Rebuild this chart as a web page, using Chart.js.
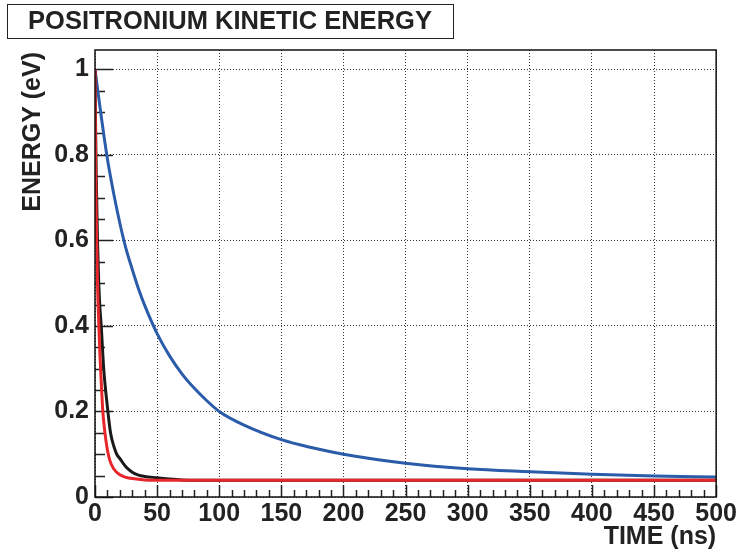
<!DOCTYPE html>
<html>
<head>
<meta charset="utf-8">
<script src="https://cdn.jsdelivr.net/npm/chart.js@4.4.1/dist/chart.umd.min.js"></script>
<style>
    html, body { margin: 0; padding: 0; background: #fff; }
    #energyChart { display: block; }
</style>
</head>
<body>
<canvas id="energyChart" width="739" height="556"></canvas>
<script>
// Values: time in ns, energy in eV
const timeBlue = [0, 5, 10, 15, 20, 25, 30, 35, 40, 50, 60, 70, 80, 90, 100, 120, 150, 175, 200, 250, 300, 350, 400, 450, 500];
const energyBlue = [1.0, 0.89, 0.79, 0.71, 0.64, 0.58, 0.532, 0.487, 0.448, 0.382, 0.33, 0.288, 0.254, 0.225, 0.2, 0.168, 0.134, 0.115, 0.1, 0.079, 0.066, 0.059, 0.053, 0.049, 0.047];

const timeBlack = [0, 0.5, 1, 2, 3, 4, 5, 7, 10, 12.5, 15, 17.5, 20, 25, 30, 35, 40, 50, 60, 70, 100, 200, 300, 400, 500];
const energyBlack = [1.0, 0.86, 0.75, 0.6, 0.5, 0.44, 0.4, 0.3, 0.21, 0.15, 0.12, 0.1, 0.09, 0.07, 0.058, 0.051, 0.048, 0.045, 0.042, 0.04, 0.039, 0.039, 0.039, 0.039, 0.039];

const timeRed = [0, 0.5, 1, 2, 3, 4, 5, 6.3, 8, 10, 12, 15, 20, 25, 30, 40, 60, 100, 200, 300, 400, 500];
const energyRed = [1.0, 0.78, 0.66, 0.5, 0.41, 0.33, 0.27, 0.2, 0.15, 0.11, 0.085, 0.066, 0.052, 0.046, 0.043, 0.04, 0.039, 0.039, 0.039, 0.039, 0.039, 0.039];

const xTicks = [0, 50, 100, 150, 200, 250, 300, 350, 400, 450, 500];
const yTicks = [0, 0.2, 0.4, 0.6, 0.8, 1];

const chartTitle = 'POSITRONIUM KINETIC ENERGY';
const xTitle = 'TIME (ns)';
const yTitle = 'ENERGY (eV)';

const FONT = "'Liberation Sans', Arial, Helvetica, sans-serif";

function toPoints(xs, ys) {
    return xs.map(function(t, i) { return { x: t, y: ys[i] }; });
}

// Frame, inward ticks, title box and axis titles (ROOT style)
const rootStyle = {
    id: 'rootStyle',
    beforeDatasetsDraw(chart) {
        const { ctx, chartArea: a, scales: { x, y } } = chart;
        ctx.save();
        ctx.strokeStyle = '#222';
        ctx.lineWidth = 1.5;
        ctx.beginPath();
        for (let t = 0; t <= 500; t += 10) {
            const px = Math.round(x.getPixelForValue(t)) + 0.5;
            const len = t % 50 === 0 ? 12 : 7;
            ctx.moveTo(px, a.bottom);
            ctx.lineTo(px, a.bottom - len);
        }
        for (let i = 0; i <= 20; i++) {
            const v = i * 0.05;
            const py = Math.round(y.getPixelForValue(v)) + 0.5;
            const len = i % 4 === 0 ? 18 : 10;
            ctx.moveTo(a.left, py);
            ctx.lineTo(a.left + len, py);
        }
        ctx.stroke();
        ctx.restore();
    },
    afterDraw(chart) {
        const { ctx, chartArea: a } = chart;
        ctx.save();
        ctx.strokeStyle = '#111';
        ctx.lineWidth = 1.5;
        ctx.strokeRect(a.left, a.top, a.right - a.left, a.bottom - a.top);

        // title box
        ctx.lineWidth = 1;
        ctx.strokeStyle = '#222';
        ctx.strokeRect(7.5, 4.5, 446, 34);
        ctx.fillStyle = '#222';
        ctx.font = 'bold 25.5px ' + FONT;
        ctx.textBaseline = 'middle';
        ctx.textAlign = 'center';
        ctx.fillText(chartTitle, 230, 22);

        // axis titles
        ctx.font = 'bold 25px ' + FONT;
        ctx.textAlign = 'right';
        ctx.fillText(xTitle, a.right, 537);
        ctx.translate(33, a.top + 2);
        ctx.rotate(-Math.PI / 2);
        ctx.textAlign = 'right';
        ctx.fillText(yTitle, 0, 0);
        ctx.restore();
    }
};

new Chart(document.getElementById('energyChart'), {
    type: 'line',
    data: {
        datasets: [{
            label: 'red',
            data: toPoints(timeRed, energyRed),
            borderColor: '#e8262b',
            borderWidth: 3,
            pointRadius: 0,
            cubicInterpolationMode: 'monotone',
            order: 0
        }, {
            label: 'black',
            data: toPoints(timeBlack, energyBlack),
            borderColor: '#1a1a1a',
            borderWidth: 3,
            pointRadius: 0,
            cubicInterpolationMode: 'monotone',
            order: 1
        }, {
            label: 'blue',
            data: toPoints(timeBlue, energyBlue),
            borderColor: '#2a5caa',
            borderWidth: 3,
            pointRadius: 0,
            cubicInterpolationMode: 'monotone',
            order: 2
        }]
    },
    options: {
        responsive: false,
        devicePixelRatio: 1,
        animation: false,
        layout: { padding: { top: 50, right: 22, left: 0, bottom: 0 } },
        scales: {
            x: {
                type: 'linear',
                min: 0,
                max: 500,
                afterFit: function(scale) { scale.height = 59; },
                afterBuildTicks: function(scale) {
                    scale.ticks = xTicks.map(function(v) { return { value: v }; });
                },
                ticks: {
                    color: '#222',
                    padding: 2,
                    maxRotation: 0,
                    autoSkip: false,
                    font: { family: FONT, size: 25, weight: 'bold' },
                    callback: function(v) { return String(v); }
                },
                grid: { color: '#333', lineWidth: 1, drawTicks: false },
                border: { display: false, dash: [1, 2] }
            },
            y: {
                type: 'linear',
                min: 0,
                max: 1.045,
                afterFit: function(scale) { scale.width = 95; },
                afterBuildTicks: function(scale) {
                    scale.ticks = yTicks.map(function(v) { return { value: v }; });
                },
                ticks: {
                    color: '#222',
                    padding: 6,
                    autoSkip: false,
                    font: { family: FONT, size: 25, weight: 'bold' },
                    callback: function(v) { return String(Number(v.toFixed(2))); }
                },
                grid: { color: '#333', lineWidth: 1, drawTicks: false },
                border: { display: false, dash: [1, 2] }
            }
        },
        plugins: {
            legend: { display: false },
            tooltip: { enabled: false }
        }
    },
    plugins: [rootStyle]
});
</script>
</body>
</html>
